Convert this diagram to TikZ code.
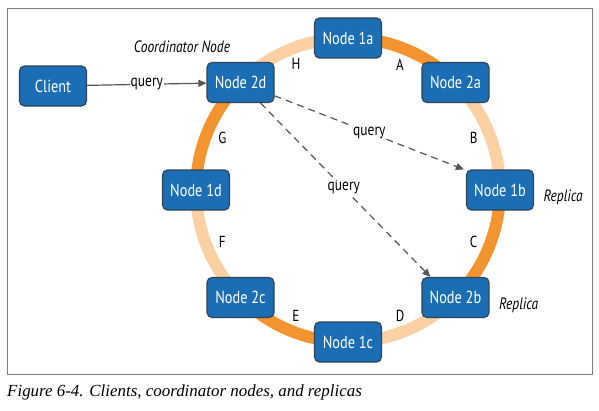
\documentclass[tikz,border=0pt]{standalone}
\usepackage{fontspec}
\setmainfont{Liberation Serif}
\newfontfamily\nodefont[FakeStretch=0.82]{PT Sans}
\usepackage{xcolor}
\definecolor{nodeblue}{RGB}{27,110,180}
\definecolor{nodeedge}{RGB}{50,68,88}
\definecolor{ringdark}{RGB}{243,148,49}
\definecolor{ringlight}{RGB}{251,208,163}
\definecolor{arrowgray}{RGB}{85,85,85}
\definecolor{framegray}{RGB}{125,125,125}
\usepackage{tikz}
\usetikzlibrary{arrows.meta, positioning, calc, backgrounds}
\tikzstyle{block} = [rectangle, draw=nodeedge, line width=1.2bp, fill=nodeblue, text=white, minimum width=67bp, minimum height=40bp, rounded corners=5bp, font=\nodefont\fontsize{17.5}{19}\selectfont]
\tikzstyle{ringseg} = [line width=12bp]
\tikzstyle{seglabel} = [font=\nodefont\fontsize{16}{18}\selectfont]
\tikzstyle{note} = [font=\nodefont\itshape\fontsize{16.5}{18}\selectfont]
\tikzstyle{arrow} = [line width=1.2bp, draw=arrowgray, ->, >={Triangle[length=8bp,width=7bp]}]
\tikzstyle{qlabel} = [fill=white, inner sep=1bp, font=\nodefont\fontsize{16.5}{18}\selectfont]

\begin{document}
\begin{tikzpicture}[x=1bp, y=1bp]
    \useasboundingbox (0,0) rectangle (599,410);
    \coordinate (ring) at (348,220);

    % ring members
    \foreach \name/\ang in {1a/90, 2a/45, 1b/0, 2b/-45, 1c/-90, 2c/-135, 1d/180, 2d/135}
        \node[block] (n\name) at ($(ring)+(\ang:152bp)$) {Node \name};
    \node[block] (client) at (53,324) {Client};

    % ranges between members
    \foreach \lab/\ang in {A/67.5, B/22.5, C/-22.5, D/-67.5, E/-112.5, F/-157.5, G/157.5, H/112.5}
        \node[seglabel] (lab\lab) at ($(ring)+(\ang:136bp)$) {\lab};

    \node[note] (coord) at (182,363) {Coordinator Node};
    \node[note, anchor=west] (rep1) at ([xshift=6bp, yshift=-7bp]n1b.east) {Replica};
    \node[note, anchor=west] (rep2) at ([xshift=6bp, yshift=-8bp]n2b.east) {Replica};

    % requests
    \draw[arrow] (client) -- node[qlabel] (q0) {query} (n2d);
    \draw[arrow, dash pattern=on 7bp off 5bp] (n2d) -- node[qlabel, pos=0.5] (q1) {query} ([xshift=-2bp]n1b.north west);
    \draw[arrow, dash pattern=on 7bp off 5bp] (n2d) -- node[qlabel, pos=0.49] (q2) {query} ([xshift=9bp]n2b.north west);

    \begin{scope}[on background layer]
        \draw[framegray, line width=1bp, fill=white] (7,36) rectangle (592,401);
        \foreach \from/\ang/\col in {1a/90/ringdark, 2a/45/ringlight, 1b/0/ringdark, 2b/-45/ringlight, 1c/-90/ringdark, 2c/-135/ringlight, 1d/180/ringdark, 2d/135/ringlight}
            \draw[ringseg, draw=\col] (n\from.center) arc[start angle=\ang, delta angle=-45, radius=152bp];
    \end{scope}

    \node[anchor=west, inner sep=0pt, font=\itshape\fontsize{17}{19}\selectfont] (caption) at (7,18) {Figure 6-4. Clients, coordinator nodes, and replicas};
\end{tikzpicture}
\end{document}
